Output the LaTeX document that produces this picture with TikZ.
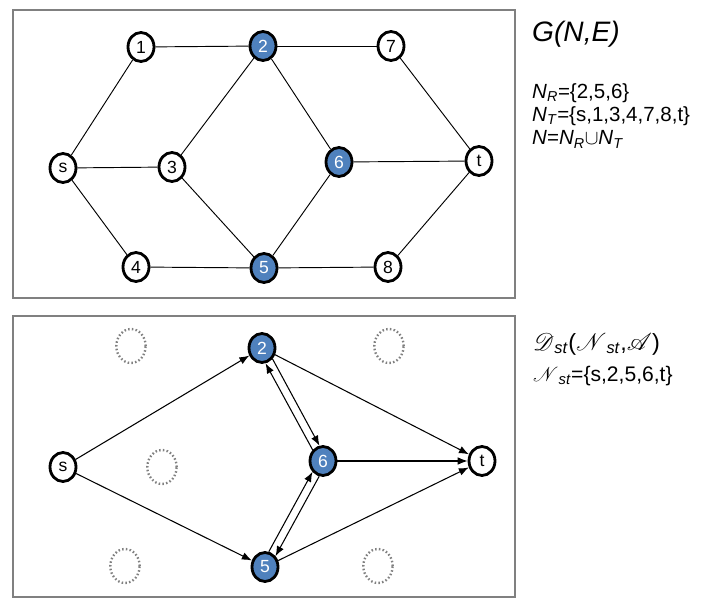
\documentclass[tikz,border=0pt]{standalone}
\usepackage{fix-cm}
\usepackage{fontspec}
\setmainfont{Liberation Sans}
\usepackage{mathrsfs}
\usetikzlibrary{shapes.geometric,arrows.meta}

\definecolor{relayblue}{RGB}{79,129,189}
\definecolor{framegray}{RGB}{128,128,128}

\begin{document}
\begin{tikzpicture}[x=0.03cm,y=-0.03cm,
    vertex/.style={ellipse,draw,line width=2.4pt,fill=white,minimum width=0.78cm,minimum height=0.87cm,inner sep=0pt,font=\fontsize{15}{17}\selectfont},
    relay/.style={vertex,fill=relayblue,text=white},
    ghost/.style={ellipse,draw=framegray,line width=2pt,dash pattern=on 1.3pt off 1.9pt,minimum width=0.88cm,minimum height=1.02cm,inner sep=0pt},
    link/.style={line width=0.8pt},
    arc/.style={->,>={Latex[length=8.5pt,width=6.5pt]},line width=0.9pt},
    frame/.style={draw=framegray,line width=2.4pt},
    lbl/.style={anchor=base west,inner sep=0pt,font=\fontsize{18}{22}\selectfont}]
    \useasboundingbox (0,0) rectangle (702,599);

    \draw[frame] (13,10) rectangle (515,298);
    \draw[frame] (13,316) rectangle (515,597);

    % G(N,E)
    \node[vertex] at (141,47) (1) {1};
    \node[relay] at (263,46) (2) {2};
    \node[vertex] at (391,46) (7) {7};
    \node[vertex] at (63,168) (s) {s};
    \node[vertex] at (172,167) (3) {3};
    \node[relay] at (339,162) (6) {6};
    \node[vertex] at (479,161) (t) {t};
    \node[vertex] at (136,267) (4) {4};
    \node[relay] at (264,268) (5) {5};
    \node[vertex] at (388,267) (8) {8};

    \draw[link] (1) -- (2);
    \draw[link] (2) -- (7);
    \draw[link] (s) -- (1);
    \draw[link] (s) -- (3);
    \draw[link] (s) -- (4);
    \draw[link] (3) -- (2);
    \draw[link] (3) -- (5);
    \draw[link] (2) -- (6);
    \draw[link] (4) -- (5);
    \draw[link] (5) -- (6);
    \draw[link] (5) -- (8);
    \draw[link] (6) -- (t);
    \draw[link] (7) -- (t);
    \draw[link] (8) -- (t);

    \node[lbl,font=\fontsize{24}{28}\selectfont\itshape] at (532,42) (gname) {G(N,E)};
    \node[lbl,align=left,font=\fontsize{17.5}{20}\selectfont] at (532,145) (sets) {\textit{N}\textsubscript{\textit{R}}=\{2,5,6\}\\
        \textit{N}\textsubscript{\textit{T}}=\{s,1,3,4,7,8,t\}\\
        \textit{N}=\textit{N}\textsubscript{\textit{R}}$\cup$\textit{N}\textsubscript{\textit{T}}};

    % D_st(N_st,A)
    \node[ghost] at (131,346) (g1) {};
    \node[ghost] at (389,346) (g7) {};
    \node[ghost] at (162,467) (g3) {};
    \node[ghost] at (125,566) (g4) {};
    \node[ghost] at (378,566) (g8) {};

    \node[relay] at (262,348) (2b) {2};
    \node[vertex] at (63,467) (sb) {s};
    \node[relay] at (323,461) (6b) {6};
    \node[vertex] at (482,461) (tb) {t};
    \node[relay] at (265,567) (5b) {5};

    \draw[arc] (sb) -- (2b);
    \draw[arc] (sb) -- (5b);
    \draw[arc] (2b) -- (tb);
    \draw[arc] (6b) -- (tb);
    \draw[arc] (5b) -- (tb);
    \draw[arc] (2b.-46) -- (6b.103);
    \draw[arc] (6b.133) -- (2b.-77);
    \draw[arc] (5b.76) -- (6b.226);
    \draw[arc] (6b.256) -- (5b.46);

    \node[lbl,font=\fontsize{20}{24}\selectfont] at (533,350) (dname) {$\mathscr{D}$\textsubscript{\textit{st}}($\mathscr{N}$\textsubscript{\textit{st}},$\mathscr{A}$)};
    \node[lbl] at (533,381) (nst) {$\mathscr{N}$\textsubscript{\textit{st}}=\{s,2,5,6,t\}};
\end{tikzpicture}
\end{document}
